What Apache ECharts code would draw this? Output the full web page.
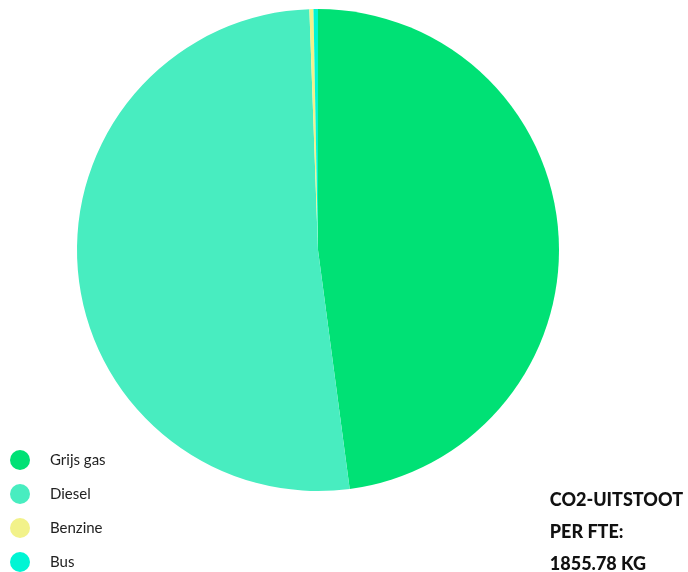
<!DOCTYPE html>
<html>
<head>
<meta charset="utf-8">
<style>
html,body{margin:0;padding:0;background:#fff;}
#chart{width:688px;height:572px;}
</style>
<script src="https://cdn.jsdelivr.net/npm/echarts@6/dist/echarts.min.js"></script>
</head>
<body>
<div id="chart"></div>
<script>
const categories = ["Grijs gas", "Diesel", "Benzine", "Bus"];
const values = [47.9, 51.53, 0.27, 0.3];
const colors = ["#00E175", "#48EDC0", "#F2F28A", "#00F5D4"];
const titleLines = ["CO2-UITSTOOT", "PER FTE:", "1855.78 KG"];

const chart = echarts.init(document.getElementById('chart'));
chart.setOption({
  animation: false,
  color: colors,
  title: {
    text: titleLines.join('\n'),
    right: 0,
    bottom: -13,
    textStyle: {
      fontFamily: 'Lato',
      fontWeight: 900,
      fontSize: 18,
      color: '#111',
      lineHeight: 32
    }
  },
  legend: {
    orient: 'vertical',
    left: 5,
    bottom: -5,
    icon: 'circle',
    itemWidth: 20,
    itemHeight: 20,
    itemGap: 14,
    textStyle: {
      fontFamily: 'Lato',
      fontSize: 15,
      color: '#222',
      padding: [0, 0, 0, 15]
    },
    data: categories
  },
  series: [{
    type: 'pie',
    center: [318, 250],
    radius: [0, 241],
    startAngle: 90,
    clockwise: true,
    label: { show: false },
    labelLine: { show: false },
    emphasis: { disabled: true },
    itemStyle: { borderWidth: 0 },
    data: categories.map((c, i) => ({ name: c, value: values[i] }))
  }]
});
</script>
</body>
</html>
